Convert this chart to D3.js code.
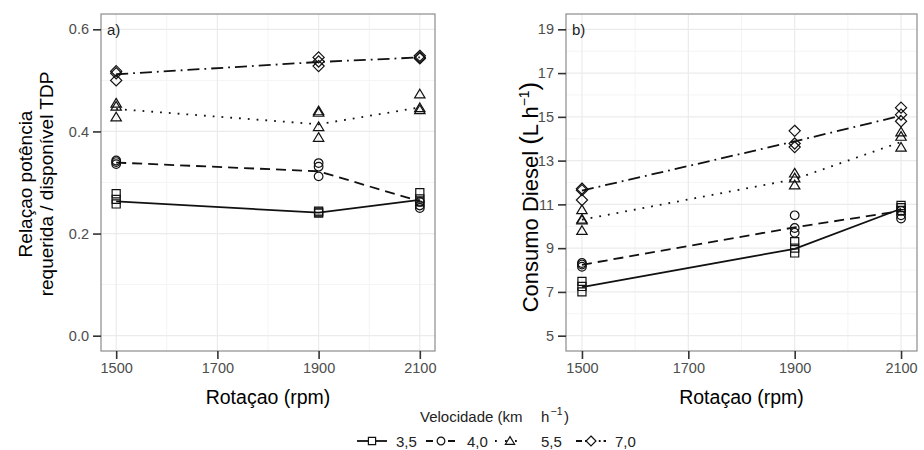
<!DOCTYPE html>
<html><head><meta charset="utf-8">
<script src="https://cdn.jsdelivr.net/npm/d3@7"></script>
<style>
body{margin:0;background:#fff;}
text{font-family:"Liberation Sans",Arial,sans-serif;}
</style></head>
<body><svg id="c" width="924" height="450"></svg>
<script>
// ---------- data ----------
const rpm = [1500, 1900, 2100];
const speedLabels = ["3,5", "4,0", "5,5", "7,0"];
const xTicks = [1500, 1700, 1900, 2100];
const xMinor = [1600, 1800, 2000];
const yTicksA = [0.0, 0.2, 0.4, 0.6];
const yMinorA = [0.1, 0.3, 0.5];
const yTicksB = [5, 7, 9, 11, 13, 15, 17, 19];
const yMinorB = [6, 8, 10, 12, 14, 16, 18];

// panel a: power ratio, line (mean) values per speed
const potMean35 = [0.263, 0.241, 0.266];
const potMean40 = [0.339, 0.322, 0.263];
const potMean55 = [0.444, 0.414, 0.447];
const potMean70 = [0.512, 0.536, 0.545];
// replicates per rpm
const potRep35 = [[0.278, 0.267, 0.258], [0.244, 0.242, 0.240], [0.280, 0.268, 0.262]];
const potRep40 = [[0.343, 0.340, 0.336], [0.338, 0.331, 0.312], [0.262, 0.255, 0.250]];
const potRep55 = [[0.455, 0.449, 0.428], [0.440, 0.437, 0.409, 0.388], [0.473, 0.446, 0.442]];
const potRep70 = [[0.518, 0.514, 0.500], [0.545, 0.537, 0.528], [0.548, 0.545, 0.543]];

// panel b: diesel consumption
const dieMean35 = [7.22, 8.97, 10.80];
const dieMean40 = [8.24, 9.95, 10.70];
const dieMean55 = [10.30, 12.15, 13.85];
const dieMean70 = [11.63, 13.88, 15.05];
const dieRep35 = [[7.48, 7.25, 7.00], [9.30, 9.00, 8.78], [10.95, 10.85, 10.72]];
const dieRep40 = [[8.32, 8.25, 8.15], [10.50, 9.92, 9.70], [10.70, 10.50, 10.35]];
const dieRep55 = [[10.75, 10.32, 10.28, 9.80], [12.42, 12.20, 11.88], [14.30, 14.10, 13.60]];
const dieRep70 = [[11.72, 11.65, 11.20], [14.36, 13.78, 13.62], [15.42, 15.10, 14.80]];

// ---------- styles ----------
const dashes = [null, "10,6", "1.8,7", "12,5,1.8,5"];
const shapes = ["square", "circle", "triangle", "diamond"];

const svg = d3.select("#c");

function shapePath(type, s) {
  const p = d3.path();
  if (type === "square") { const h = s * 0.45; p.rect(-h, -h, 2 * h, 2 * h); }
  else if (type === "circle") { const r = s * 0.48; p.arc(0, 0, r, 0, 2 * Math.PI); p.closePath(); }
  else if (type === "triangle") { const h = s * 0.55; p.moveTo(0, -h); p.lineTo(h * 1.05, h * 0.75); p.lineTo(-h * 1.05, h * 0.75); p.closePath(); }
  else { const h = s * 0.62; p.moveTo(0, -h); p.lineTo(h, 0); p.lineTo(0, h); p.lineTo(-h, 0); p.closePath(); }
  return p.toString();
}

function panel(cfg) {
  const x = d3.scaleLinear().domain([1470, 2130]).range([cfg.left, cfg.right]);
  const y = d3.scaleLinear().domain(cfg.ydom).range([351, 14]);
  const g = svg.append("g");
  // grid
  g.selectAll(".mx").data(xMinor).join("line").attr("x1", d => x(d)).attr("x2", d => x(d))
    .attr("y1", 14).attr("y2", 351).attr("stroke", "#f4f4f4").attr("stroke-width", 1);
  g.selectAll(".my").data(cfg.yminor).join("line").attr("y1", d => y(d)).attr("y2", d => y(d))
    .attr("x1", cfg.left).attr("x2", cfg.right).attr("stroke", "#f4f4f4").attr("stroke-width", 1);
  g.selectAll(".Mx").data(xTicks).join("line").attr("x1", d => x(d)).attr("x2", d => x(d))
    .attr("y1", 14).attr("y2", 351).attr("stroke", "#ebebeb").attr("stroke-width", 1.2);
  g.selectAll(".My").data(cfg.yticks).join("line").attr("y1", d => y(d)).attr("y2", d => y(d))
    .attr("x1", cfg.left).attr("x2", cfg.right).attr("stroke", "#ebebeb").attr("stroke-width", 1.2);

  // lines
  const line = d3.line().x((d, i) => x(rpm[i])).y(d => y(d));
  cfg.means.forEach((m, k) => {
    g.append("path").attr("d", line(m)).attr("fill", "none").attr("stroke", "#111")
      .attr("stroke-width", 1.8).attr("stroke-dasharray", dashes[k]);
  });
  // points
  cfg.reps.forEach((rep, k) => {
    rep.forEach((vals, i) => {
      vals.forEach(v => {
        g.append("path").attr("d", shapePath(shapes[k], 9))
          .attr("transform", `translate(${x(rpm[i])},${y(v)})`)
          .attr("fill", "none").attr("stroke", "#111").attr("stroke-width", 1.2);
      });
    });
  });
  // border
  g.append("rect").attr("x", cfg.left).attr("y", 14).attr("width", cfg.right - cfg.left).attr("height", 337)
    .attr("fill", "none").attr("stroke", "#8c8c8c").attr("stroke-width", 1.2);

  // axes
  const ax = g.append("g").attr("transform", `translate(0,351)`)
    .call(d3.axisBottom(x).tickValues(xTicks).tickSize(8).tickPadding(4).tickFormat(d3.format("d")));
  const ay = g.append("g").attr("transform", `translate(${cfg.left},0)`)
    .call(d3.axisLeft(y).tickValues(cfg.yticks).tickSize(8).tickPadding(4).tickFormat(cfg.fmt));
  [ax, ay].forEach(a => {
    a.select(".domain").remove();
    a.selectAll(".tick line").attr("stroke", "#333").attr("stroke-width", 1.6);
    a.selectAll(".tick text").attr("fill", "#4d4d4d").style("font-size", "14.5px")
      .style("font-family", "Liberation Sans, Arial, sans-serif");
  });

  // panel label
  g.append("text").attr("x", cfg.left + 6).attr("y", 35).text(cfg.tag)
    .style("font-size", "15px").attr("fill", "#222");
  // x title
  g.append("text").attr("x", (cfg.left + cfg.right) / 2).attr("y", 404).attr("text-anchor", "middle")
    .style("font-size", "19.5px").text("Rotaçao (rpm)");
  return { x, y };
}

panel({ left: 101, right: 435, ydom: [-0.03, 0.63], yticks: yTicksA, yminor: yMinorA, fmt: d3.format(".1f"),
  means: [potMean35, potMean40, potMean55, potMean70], reps: [potRep35, potRep40, potRep55, potRep70], tag: "a)" });
panel({ left: 566, right: 917, ydom: [4.3, 19.7], yticks: yTicksB, yminor: yMinorB, fmt: d3.format("d"),
  means: [dieMean35, dieMean40, dieMean55, dieMean70], reps: [dieRep35, dieRep40, dieRep55, dieRep70], tag: "b)" });

// y titles
const yt = svg.append("text").attr("transform", "translate(32,184) rotate(-90)").attr("text-anchor", "middle")
  .style("font-size", "19px");
yt.append("tspan").attr("x", 0).attr("dy", 0).text("Relaçao potência");
yt.append("tspan").attr("x", 0).attr("dy", 21).text("requerida / disponível TDP");

const yt2 = svg.append("text").attr("transform", "translate(538,197) rotate(-90)").attr("text-anchor", "middle")
  .style("font-size", "22px");
yt2.append("tspan").text("Consumo Diesel ");
yt2.append("tspan").style("font-size", "26px").text("(");
yt2.append("tspan").text("L  h");
yt2.append("tspan").attr("dy", -9).style("font-size", "14px").text("−1");
yt2.append("tspan").attr("dy", 9).style("font-size", "26px").text(")");

// legend
const lt = svg.append("g").style("font-size", "15px").attr("fill", "#222");
lt.append("text").attr("x", 420).attr("y", 422).text("Velocidade (km");
lt.append("text").attr("x", 541).attr("y", 422).text("h");
lt.append("text").attr("x", 550.5).attr("y", 415).style("font-size", "10.5px").text("−1");
lt.append("text").attr("x", 564).attr("y", 422).text(")");

const keyCx = [372, 441, 510, 591];
const keyTx = [396, 467, 541, 615];
speedLabels.forEach((lab, k) => {
  const cx = keyCx[k];
  svg.append("line").attr("x1", cx - 15).attr("x2", cx + 15).attr("y1", 441).attr("y2", 441)
    .attr("stroke", "#111").attr("stroke-width", 1.8)
    .attr("stroke-dasharray", k === 0 ? null : k === 1 ? "7,4" : k === 2 ? "1.8,8.2" : "6,3,1.8,3");
  svg.append("path").attr("d", shapePath(shapes[k], 8)).attr("transform", `translate(${cx},441)`)
    .attr("fill", "#fff").attr("stroke", "#111").attr("stroke-width", 1.2);
  svg.append("text").attr("x", keyTx[k]).attr("y", 446.5).style("font-size", "15px").attr("fill", "#222").text(lab);
});
</script></body></html>
